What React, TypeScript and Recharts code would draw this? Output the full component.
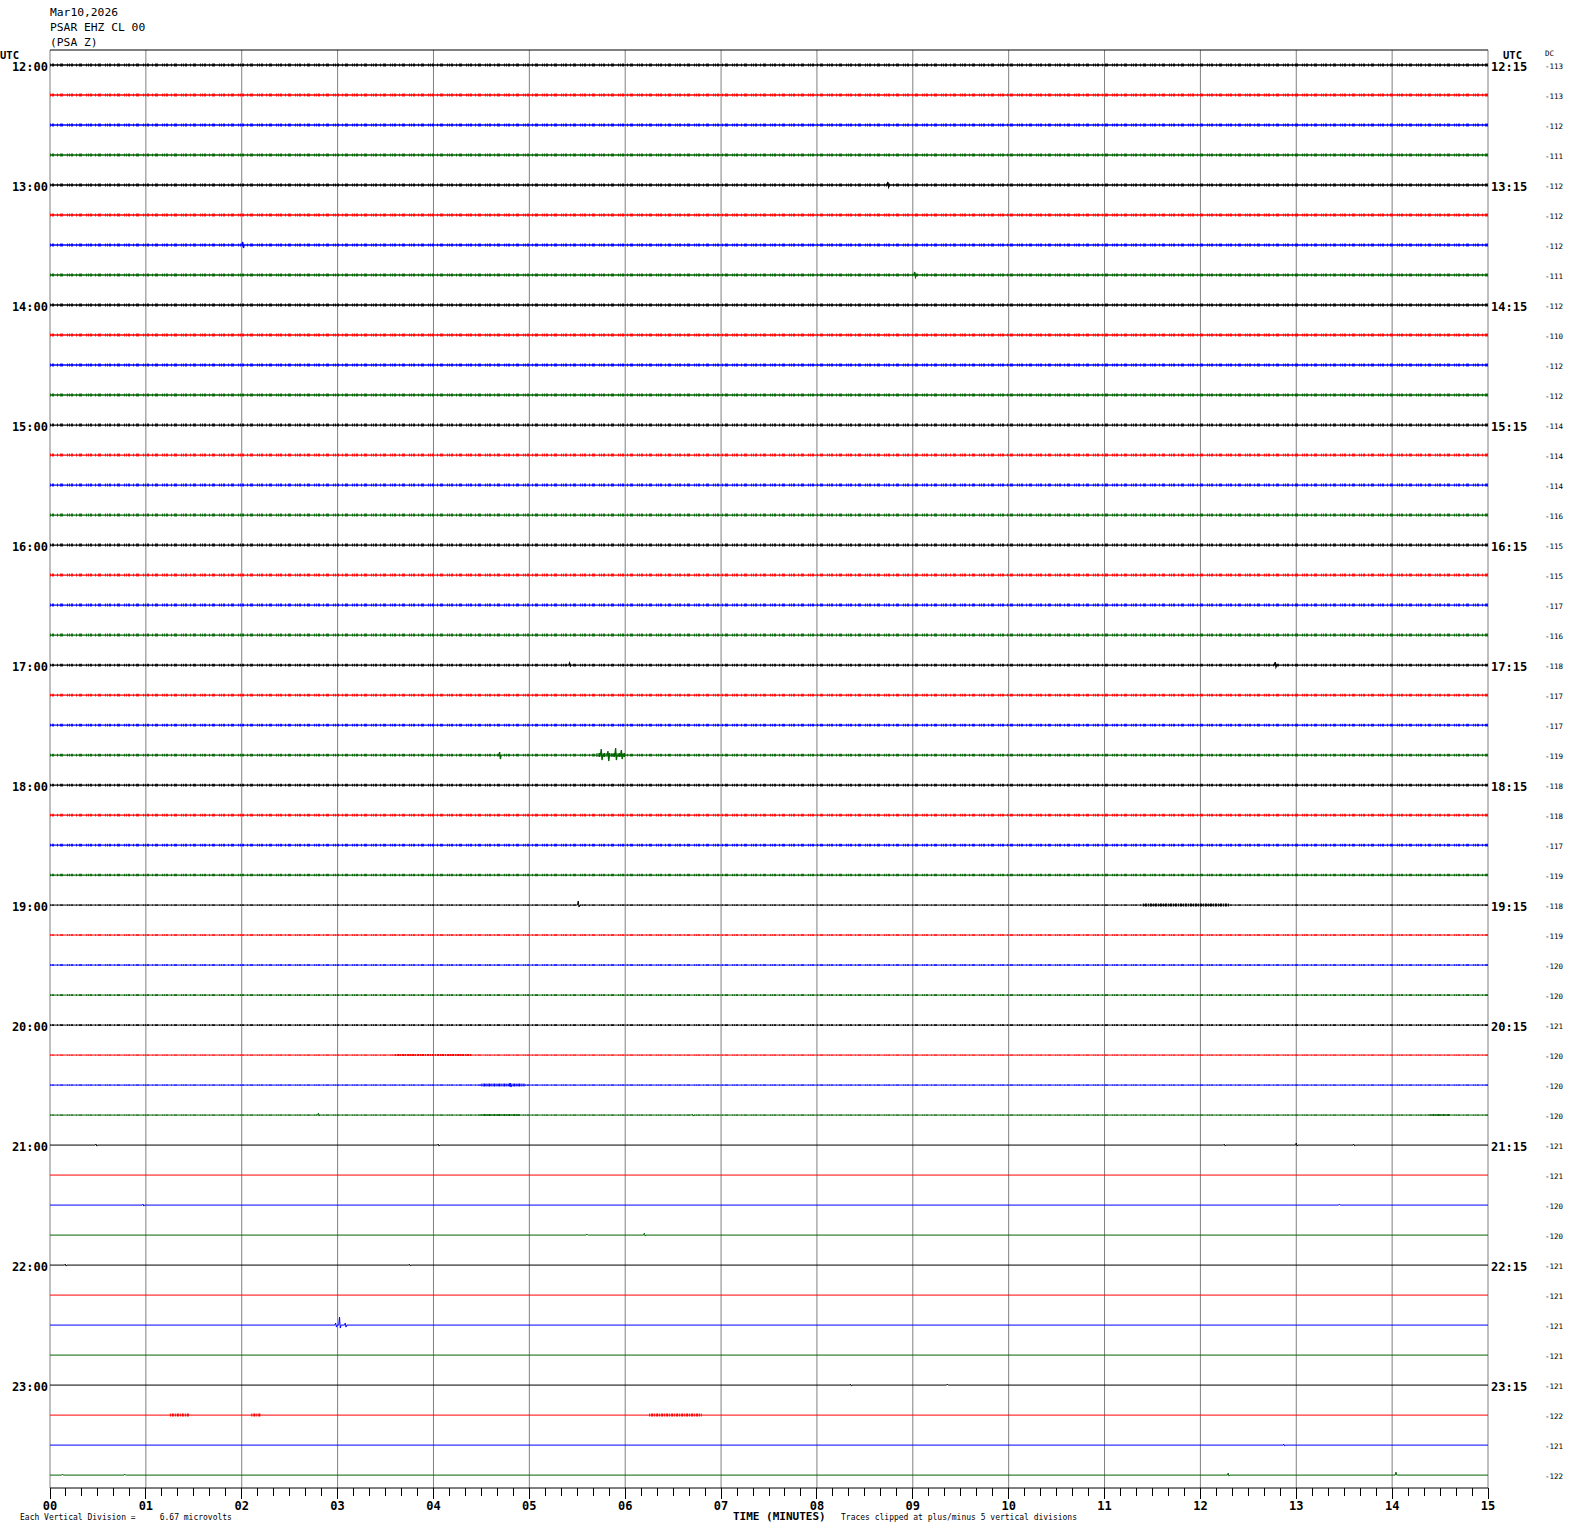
import React from "react";
import { LineChart, Line, XAxis, YAxis, ReferenceLine } from "recharts";

const hourLabels = ["12:00", "13:00", "14:00", "15:00", "16:00", "17:00", "18:00", "19:00", "20:00", "21:00", "22:00", "23:00"];
const quarterLabels = ["12:15", "13:15", "14:15", "15:15", "16:15", "17:15", "18:15", "19:15", "20:15", "21:15", "22:15", "23:15"];
const minuteLabels = ["00", "01", "02", "03", "04", "05", "06", "07", "08", "09", "10", "11", "12", "13", "14", "15"];

const dcValues = [
  -113, -113, -112, -111,
  -112, -112, -112, -111,
  -112, -110, -112, -112,
  -114, -114, -114, -116,
  -115, -115, -117, -116,
  -118, -117, -117, -119,
  -118, -118, -117, -119,
  -118, -119, -120, -120,
  -121, -120, -120, -120,
  -121, -121, -120, -120,
  -121, -121, -121, -121,
  -121, -122, -121, -122,
];

const traceColors = ["#000000", "#ff0000", "#0000ff", "#006400"];

// background noise half-width (px) per trace, read by eye
const noiseLevel = [
  1.5, 1.5, 1.5, 1.5, 1.5, 1.5, 1.5, 1.5,
  1.5, 1.5, 1.5, 1.5, 1.5, 1.5, 1.5, 1.5,
  1.5, 1.5, 1.5, 1.5, 1.4, 1.4, 1.4, 1.4,
  1.4, 1.4, 1.4, 1.3, 0.6, 0.8, 0.8, 0.9,
  0.9, 0.5, 0.5, 0.5, 0, 0, 0, 0,
  0, 0, 0, 0, 0, 0, 0, 0,
];

// [row, minute, up px, down px]
const spikes: [number, number, number, number][] = [
  [4, 8.74, 3, 2],
  [6, 2.01, 3, 3],
  [7, 9.02, 3, 2],
  [20, 5.42, 2, 1],
  [20, 12.78, 3, 2],
  [23, 4.69, 3, 4],
  [23, 5.75, 6, 5],
  [23, 5.82, 4, 6],
  [23, 5.9, 7, 5],
  [23, 5.96, 5, 4],
  [28, 5.51, 4, 2],
  [34, 4.8, 2, 2],
  [35, 2.8, 2, 1],
  [35, 6.7, 1, 1],
  [36, 0.48, 1, 1],
  [36, 4.05, 1, 1],
  [36, 12.25, 1, 1],
  [36, 13.0, 2, 1],
  [36, 13.6, 1, 1],
  [38, 0.97, 1, 1],
  [38, 13.45, 1, 0],
  [39, 5.6, 1, 0],
  [39, 6.2, 2, 1],
  [40, 0.16, 1, 1],
  [40, 3.75, 1, 1],
  [42, 2.98, 2, 2],
  [42, 3.02, 8, 3],
  [42, 3.08, 2, 2],
  [44, 8.35, 1, 1],
  [44, 9.36, 1, 0],
  [46, 12.87, 1, 1],
  [47, 0.13, 1, 0],
  [47, 0.78, 1, 0],
  [47, 12.29, 2, 1],
  [47, 14.04, 3, 0],
];

// [row, from minute, to minute, thickness px]
const bursts: [number, number, number, number][] = [
  [23, 5.7, 6.0, 4],
  [28, 11.4, 12.3, 3],
  [33, 3.6, 4.4, 2],
  [34, 4.5, 4.95, 3],
  [35, 4.5, 4.9, 2],
  [35, 14.4, 14.6, 2],
  [45, 1.25, 1.45, 3],
  [45, 2.1, 2.2, 3],
  [45, 6.25, 6.8, 3],
];

const ROW_PX = 30;
const rows = dcValues.map((_, i) => i);
const minuteTicks: number[] = [];
for (let k = 0; k <= 90; k++) minuteTicks.push(k / 6);

function traceData(row: number) {
  const pts = [{ x: 0, y: row }];
  spikes
    .filter((s) => s[0] === row)
    .sort((a, b) => a[1] - b[1])
    .forEach(([, m, up, down]) => {
      pts.push({ x: m - 0.008, y: row });
      pts.push({ x: m, y: row - up / ROW_PX });
      pts.push({ x: m + 0.008, y: row + down / ROW_PX });
      pts.push({ x: m + 0.016, y: row });
    });
  pts.push({ x: 15, y: row });
  return pts;
}

const mono = "'DejaVu Sans Mono', monospace";

const LeftTick = (props: any) => {
  const { y, payload } = props;
  return (
    <text x={48} y={y + 6} textAnchor="end" fontFamily={mono} fontWeight="bold" fontSize={12} fill="#000">
      {hourLabels[payload.value / 4]}
    </text>
  );
};

const RightTick = (props: any) => {
  const { y, payload } = props;
  return (
    <text x={1491} y={y + 6} textAnchor="start" fontFamily={mono} fontWeight="bold" fontSize={12} fill="#000">
      {quarterLabels[payload.value / 4]}
    </text>
  );
};

const DcTick = (props: any) => {
  const { y, payload } = props;
  return (
    <text x={1545} y={y + 4} textAnchor="start" fontFamily={mono} fontSize={7.5} fill="#000">
      {dcValues[payload.value]}
    </text>
  );
};

const MinuteTick = (props: any) => {
  const { x, payload } = props;
  const v = payload.value as number;
  const major = Math.abs(v - Math.round(v)) < 1e-6;
  return (
    <g>
      <line x1={x} x2={x} y1={1488} y2={major ? 1499 : 1496} stroke="#000" shapeRendering="crispEdges" />
      {major && (
        <text x={x} y={1510} textAnchor="middle" fontFamily={mono} fontWeight="bold" fontSize={12} fill="#000">
          {minuteLabels[Math.round(v)]}
        </text>
      )}
    </g>
  );
};

const small: React.CSSProperties = { position: "absolute", fontFamily: mono, fontSize: 8, whiteSpace: "pre", lineHeight: 1 };

export default function App() {
  const domain: [number, number] = [-0.5, 47.43];
  return (
    <div style={{ position: "absolute", left: 0, top: 0, width: 1570, height: 1534, background: "#fff" }}>
      <div style={{ position: "absolute", left: 50, top: 5, fontFamily: mono, fontSize: 11.3, lineHeight: "15px", whiteSpace: "pre" }}>
        {"Mar10,2026\nPSAR EHZ CL 00\n(PSA Z)"}
      </div>
      <div style={{ position: "absolute", left: 0, top: 50, fontFamily: mono, fontWeight: "bold", fontSize: 10.5, lineHeight: 1 }}>UTC</div>
      <div style={{ position: "absolute", left: 1503, top: 50, fontFamily: mono, fontWeight: "bold", fontSize: 10.5, lineHeight: 1 }}>UTC</div>
      <div style={{ ...small, left: 1545, top: 50, fontSize: 7.5 }}>DC</div>
      <div style={{ ...small, left: 20, top: 1514 }}>{"Each Vertical Division =     6.67 microvolts"}</div>
      <div style={{ position: "absolute", left: 733, top: 1511, fontFamily: mono, fontWeight: "bold", fontSize: 11, lineHeight: 1 }}>TIME (MINUTES)</div>
      <div style={{ ...small, left: 841, top: 1514 }}>Traces clipped at plus/minus 5 vertical divisions</div>
      <LineChart width={1570} height={1534} margin={{ top: 50, right: 0, bottom: 0, left: 0 }}>
        <XAxis
          type="number"
          dataKey="x"
          domain={[0, 15]}
          ticks={minuteTicks}
          interval={0}
          allowDataOverflow
          height={46}
          tickLine={false}
          axisLine={{ stroke: "#000" }}
          tick={<MinuteTick />}
        />
        <YAxis yAxisId="L" type="number" dataKey="y" domain={domain} reversed allowDataOverflow width={50}
          ticks={[0, 4, 8, 12, 16, 20, 24, 28, 32, 36, 40, 44]} interval={0} axisLine={false} tickLine={false} tick={<LeftTick />} />
        <YAxis yAxisId="R" orientation="right" type="number" domain={domain} reversed allowDataOverflow width={50}
          ticks={[0, 4, 8, 12, 16, 20, 24, 28, 32, 36, 40, 44]} interval={0} axisLine={false} tickLine={false} tick={<RightTick />} />
        <YAxis yAxisId="DC" orientation="right" type="number" domain={domain} reversed allowDataOverflow width={32}
          ticks={rows} interval={0} axisLine={false} tickLine={false} tick={<DcTick />} />
        {minuteLabels.map((_, m) => (
          <ReferenceLine key={"v" + m} yAxisId="L" x={m} stroke="#808080" strokeWidth={1} />
        ))}
        <ReferenceLine yAxisId="L" y={-0.5} stroke="#000" strokeWidth={1} />
        {rows.map((r) =>
          noiseLevel[r] > 0 ? (
            <Line
              key={"n" + r}
              yAxisId="L"
              data={[{ x: 0, y: r }, { x: 15, y: r }]}
              dataKey="y"
              stroke={traceColors[r % 4]}
              strokeWidth={noiseLevel[r] * 2}
              strokeDasharray="1 1 2 3 1 2 3 4 1 1"
              strokeOpacity={0.85}
              dot={false}
              activeDot={false}
              isAnimationActive={false}
            />
          ) : null
        )}
        {rows.map((r) => (
          <Line
            key={"t" + r}
            yAxisId="L"
            data={traceData(r)}
            dataKey="y"
            type="linear"
            stroke={traceColors[r % 4]}
            strokeWidth={noiseLevel[r] > 1 ? 1.3 : 1}
            dot={false}
            activeDot={false}
            isAnimationActive={false}
          />
        ))}
        {bursts.map(([r, a, b, w], i) => (
          <ReferenceLine
            key={"b" + i}
            yAxisId="L"
            segment={[{ x: a, y: r }, { x: b, y: r }]}
            stroke={traceColors[r % 4]}
            strokeWidth={w}
            strokeDasharray="1 1 2 1"
          />
        ))}
      </LineChart>
    </div>
  );
}
